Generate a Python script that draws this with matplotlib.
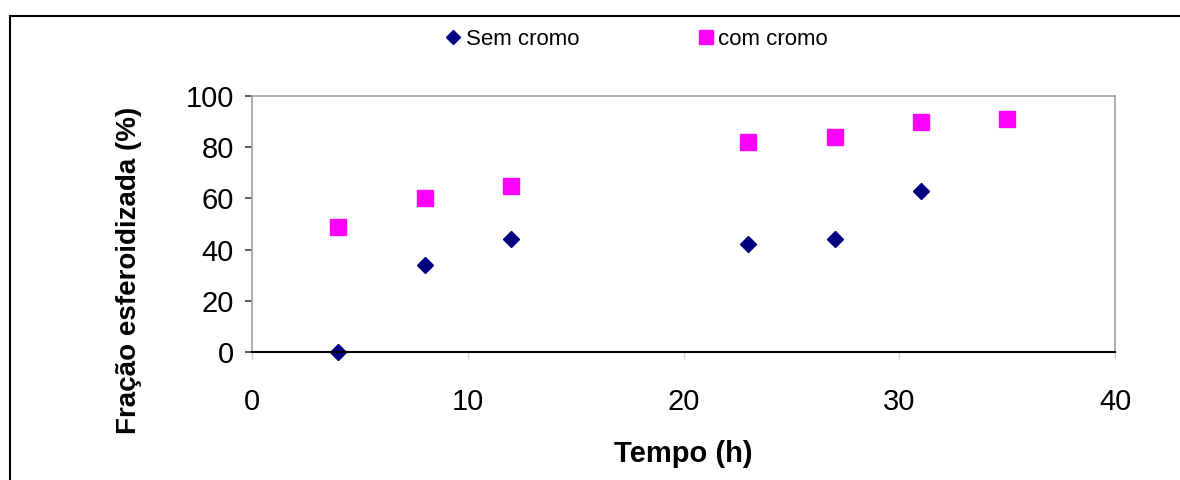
import matplotlib
matplotlib.use("Agg")
import matplotlib.pyplot as plt
from matplotlib.lines import Line2D

plt.rcParams['font.family'] = ['Liberation Sans', 'DejaVu Sans']

# dados
tempo_sem = [4, 8, 12, 23, 27, 31]
fracao_sem = [0, 34, 44, 42, 44, 63]
tempo_com = [4, 8, 12, 23, 27, 31, 35]
fracao_com = [49, 60, 65, 82, 84, 90, 91]

x_ticks = [0, 10, 20, 30, 40]
y_ticks = [0, 20, 40, 60, 80, 100]


def main():
    fig = plt.figure(figsize=(11.8, 4.8), dpi=100)
    ax = fig.add_axes([0.2136, 0.2667, 0.7314, 0.5333])

    ax.plot(tempo_sem, fracao_sem, linestyle='none', marker='D', markersize=8,
            color='#000080', label='Sem cromo', clip_on=False)
    ax.plot(tempo_com, fracao_com, linestyle='none', marker='s', markersize=12,
            color='#FF00FF', label='com cromo', clip_on=False)

    ax.set_xlim(0, 40)
    ax.set_ylim(0, 100)
    ax.set_xticks(x_ticks)
    ax.set_yticks(y_ticks)

    for s in ['top', 'right', 'left']:
        ax.spines[s].set_color('#a0a0a0')
        ax.spines[s].set_linewidth(1.2)
    ax.spines['bottom'].set_color('black')
    ax.spines['bottom'].set_linewidth(1.5)

    ax.tick_params(axis='y', direction='out', length=5, width=1.2, color='#404040',
                   labelsize=21, pad=8)
    ax.tick_params(axis='x', direction='out', length=5, width=1, color='#d0d0d0',
                   labelsize=21, pad=21)

    ax.set_xlabel('Tempo (h)', fontsize=21, fontweight='bold', labelpad=17)
    ax.set_ylabel('Fração esferoidizada (%)', fontsize=20, fontweight='bold')
    ax.yaxis.set_label_coords(-0.127, 0.32)

    ax.legend(loc='center', bbox_to_anchor=(0.539, 0.918), bbox_transform=fig.transFigure,
              ncol=2, frameon=False, fontsize=16, handlelength=0.8, handletextpad=0.15,
              columnspacing=5.3, markerscale=0.85)

    # moldura externa (so aparece em cima e a esquerda)
    fig.add_artist(Line2D([10 / 1180, 10 / 1180], [0, 1 - 16 / 480], color='black',
                          linewidth=1.5, transform=fig.transFigure))
    fig.add_artist(Line2D([10 / 1180, 1], [1 - 16 / 480, 1 - 16 / 480], color='black',
                          linewidth=1.5, transform=fig.transFigure))

    fig.savefig('out.png', dpi=100)


if __name__ == "__main__":
    main()
